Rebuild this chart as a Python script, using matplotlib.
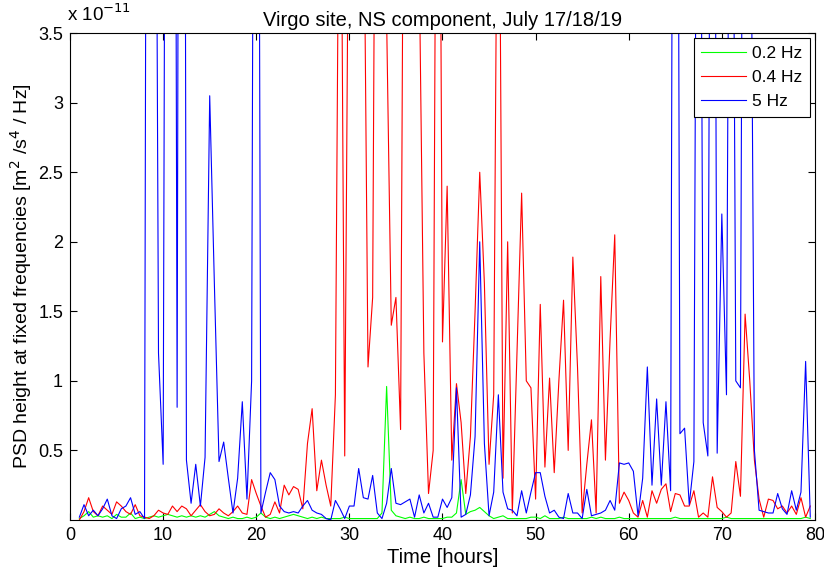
import numpy as np
import matplotlib
matplotlib.use("Agg")
import matplotlib.pyplot as plt

plt.rcParams['font.family'] = ['Liberation Sans', 'DejaVu Sans']

# time axis: one sample every half hour
hours = np.arange(1.0, 80.0, 0.5)

# PSD height, in units of 1e-11 m^2/s^4/Hz
psd_02hz = [
    0.01, 0.03, 0.06, 0.02, 0.03, 0.02, 0.03, 0.01, 0.04, 0.02,
    0.02, 0.05, 0.01, 0.02, 0.01, 0.02, 0.03, 0.02, 0.03, 0.04,
    0.03, 0.02, 0.03, 0.02, 0.03, 0.02, 0.03, 0.02, 0.04, 0.06,
    0.03, 0.02, 0.01, 0.02, 0.01, 0.01, 0.02, 0.01, 0.02, 0.05,
    0.02, 0.01, 0.02, 0.01, 0.02, 0.03, 0.04, 0.03, 0.02, 0.01,
    0.02, 0.01, 0.02, 0.01, 0.01, 0.01, 0.01, 0.02, 0.01, 0.01,
    0.01, 0.01, 0.01, 0.01, 0.01, 0.05, 0.96, 0.07, 0.03, 0.02,
    0.01, 0.02, 0.01, 0.01, 0.02, 0.01, 0.01, 0.01, 0.01, 0.02,
    0.02, 0.05, 0.29, 0.04, 0.06, 0.07, 0.09, 0.06, 0.03, 0.01,
    0.02, 0.03, 0.01, 0.01, 0.01, 0.01, 0.01, 0.02, 0.02, 0.01,
    0.03, 0.01, 0.01, 0.01, 0.02, 0.01, 0.01, 0.01, 0.01, 0.01,
    0.02, 0.01, 0.02, 0.01, 0.01, 0.01, 0.02, 0.01, 0.01, 0.01,
    0.01, 0.01, 0.01, 0.01, 0.01, 0.01, 0.01, 0.01, 0.02, 0.01,
    0.01, 0.01, 0.01, 0.01, 0.01, 0.01, 0.01, 0.01, 0.01, 0.02,
    0.01, 0.01, 0.01, 0.01, 0.01, 0.01, 0.01, 0.01, 0.01, 0.01,
    0.01, 0.01, 0.01, 0.01, 0.01, 0.01, 0.02, 0.01,
]

psd_04hz = [
    0.00, 0.06, 0.16, 0.06, 0.03, 0.10, 0.07, 0.04, 0.13, 0.10,
    0.06, 0.04, 0.11, 0.03, 0.02, 0.01, 0.03, 0.07, 0.05, 0.04,
    0.10, 0.06, 0.10, 0.08, 0.03, 0.07, 0.11, 0.06, 0.03, 0.04,
    0.08, 0.05, 0.03, 0.06, 0.10, 0.05, 0.04, 0.29, 0.19, 0.10,
    0.02, 0.04, 0.13, 0.05, 0.25, 0.18, 0.24, 0.22, 0.08, 0.55,
    0.80, 0.21, 0.43, 0.25, 0.10, 0.90, 6.00, 0.46, 5.50, 4.50,
    4.50, 5.00, 1.10, 1.60, 8.00, 5.00, 3.60, 1.40, 1.60, 0.65,
    7.50, 5.00, 5.00, 4.00, 1.20, 0.19, 0.50, 8.00, 1.28, 2.40,
    0.43, 0.98, 0.70, 0.19, 0.60, 1.50, 2.50, 1.70, 0.40, 0.90,
    6.00, 0.30, 2.00, 0.05, 1.20, 2.35, 1.00, 0.95, 0.15, 1.55,
    0.38, 1.02, 0.34, 1.00, 1.58, 0.50, 1.89, 1.10, 0.05, 0.40,
    0.72, 0.05, 1.75, 0.43, 1.30, 2.05, 0.12, 0.20, 0.14, 0.05,
    0.02, 0.14, 0.02, 0.21, 0.12, 0.22, 0.26, 0.06, 0.19, 0.18,
    0.10, 0.10, 0.21, 0.02, 0.05, 0.02, 0.31, 0.09, 0.06, 0.02,
    0.05, 0.42, 0.17, 1.48, 1.00, 0.43, 0.15, 0.02, 0.15, 0.14,
    0.08, 0.10, 0.05, 0.10, 0.04, 0.16, 0.02, 0.10,
]

psd_5hz = [
    0.02, 0.11, 0.03, 0.07, 0.03, 0.08, 0.15, 0.03, 0.01, 0.08,
    0.10, 0.16, 0.04, 0.06, 0.01, 15.0, 9.00, 1.20, 0.40, 12.0,
    14.0, 0.81, 16.0, 0.43, 0.12, 0.40, 0.10, 0.45, 3.05, 1.70,
    0.42, 0.56, 0.30, 0.05, 0.30, 0.85, 0.15, 1.00, 12.0, 0.05,
    0.20, 0.34, 0.29, 0.10, 0.06, 0.05, 0.06, 0.05, 0.10, 0.14,
    0.07, 0.05, 0.04, 0.01, 0.00, 0.14, 0.08, 0.01, 0.10, 0.10,
    0.37, 0.16, 0.15, 0.32, 0.05, 0.01, 0.12, 0.37, 0.12, 0.11,
    0.13, 0.15, 0.02, 0.18, 0.05, 0.12, 0.02, 0.02, 0.15, 0.09,
    0.16, 0.95, 0.02, 0.04, 0.18, 0.60, 2.00, 0.55, 0.03, 0.20,
    0.90, 0.20, 0.08, 0.07, 0.03, 0.21, 0.05, 0.20, 0.34, 0.34,
    0.17, 0.05, 0.07, 0.02, 0.01, 0.19, 0.05, 0.05, 0.01, 0.22,
    0.03, 0.04, 0.05, 0.07, 0.14, 0.07, 0.41, 0.40, 0.41, 0.35,
    0.03, 0.30, 1.10, 0.25, 0.87, 0.25, 0.85, 0.21, 12.0, 0.62,
    0.66, 0.11, 0.42, 9.00, 0.70, 0.46, 10.0, 0.48, 2.20, 0.90,
    8.00, 1.00, 0.95, 10.0, 6.00, 0.50, 0.07, 0.06, 0.05, 0.05,
    0.19, 0.08, 0.04, 0.21, 0.07, 0.20, 1.14, 0.02,
]

fig = plt.figure(figsize=(8.24, 5.72), dpi=100)
ax = fig.add_axes([0.085, 0.091, 0.904, 0.851])

ax.plot(hours, psd_02hz, color='#00ff00', lw=0.8, label='0.2 Hz')
ax.plot(hours, psd_04hz, color='#ff0000', lw=0.8, label='0.4 Hz')
ax.plot(hours, psd_5hz, color='#0000ff', lw=0.8, label='5 Hz')

ax.set_xlim(0, 80)
ax.set_ylim(0, 3.5)
ax.set_xticks(np.arange(0, 81, 10))
ax.set_yticks([0.5, 1, 1.5, 2, 2.5, 3, 3.5])
ax.set_yticklabels(['0.5', '1', '1.5', '2', '2.5', '3', '3.5'])
ax.tick_params(direction='in', top=True, right=True, length=5, labelsize=13, pad=5)
for s in ax.spines.values():
    s.set_linewidth(0.8)

ax.set_title('Virgo site, NS component, July 17/18/19', fontsize=14.5, pad=5)
ax.set_xlabel('Time [hours]', fontsize=14.5, labelpad=3)
ax.set_ylabel('PSD height at fixed frequencies [m$^2$ /s$^4$ / Hz]', fontsize=14, labelpad=3)
fig.text(0.081, 0.957, 'x 10$^{-11}$', fontsize=13.5, ha='left', va='bottom')

leg = ax.legend(loc='upper right', fontsize=12.5, handlelength=2.6, handletextpad=0.3,
                labelspacing=0.5, borderpad=0.45, fancybox=False, borderaxespad=0.3,
                framealpha=1, edgecolor='black')
leg.get_frame().set_linewidth(0.8)

fig.savefig('out.png', dpi=100)
